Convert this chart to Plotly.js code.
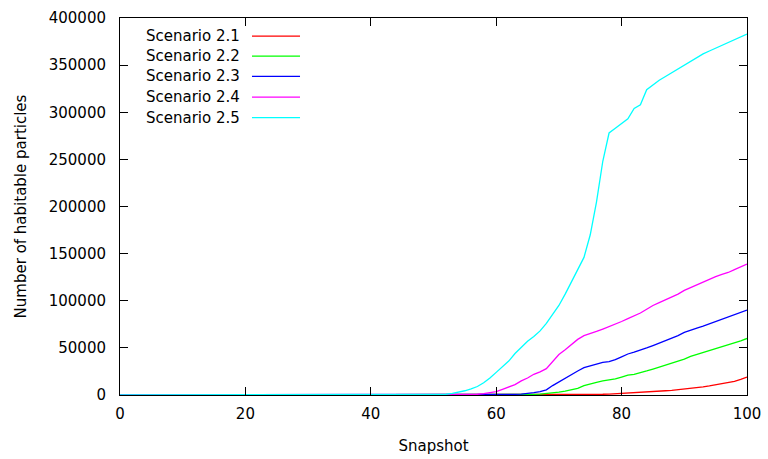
<!DOCTYPE html>
<html>
<head>
<meta charset="utf-8">
<script src="https://cdn.plot.ly/plotly-3.0.1.min.js"></script>
<style>html,body{margin:0;padding:0;background:#fff;}#chart{width:768px;height:459px;}</style>
</head>
<body>
<div id="chart"></div>
<script>
// Snapshot numbers 0..100
const snapshots = [
  0,1,2,3,4,5,6,7,8,9,10,11,12,13,14,15,16,17,18,19,
  20,21,22,23,24,25,26,27,28,29,30,31,32,33,34,35,36,37,38,39,
  40,41,42,43,44,45,46,47,48,49,50,51,52,53,54,55,56,57,58,59,
  60,61,62,63,64,65,66,67,68,69,70,71,72,73,74,75,76,77,78,79,
  80,81,82,83,84,85,86,87,88,89,90,91,92,93,94,95,96,97,98,99,100
];
const seriesNames = ["Scenario 2.1","Scenario 2.2","Scenario 2.3","Scenario 2.4","Scenario 2.5"];
const seriesColors = ["#ff0000","#00ff00","#0000ff","#ff00ff","#00ffff"];

// Scenario 2.1
const s21 = [
  0,0,0,0,0,0,0,0,0,0,0,0,0,0,0,0,0,0,0,0,
  0,0,0,0,0,0,0,0,0,0,0,0,0,0,0,0,0,0,0,0,
  0,0,0,0,0,0,0,0,0,0,0,0,0,0,0,0,0,0,0,0,
  0,0,0,0,0,0,0,0,0,0,0,50,100,200,300,450,600,800,1000,1300,
  1600,1950,2300,2700,3100,3550,4000,4500,5000,5600,6300,7000,7800,8700,9700,10800,12000,13300,14500,16500,19000
];
// Scenario 2.2
const s22 = [
  0,0,0,0,0,0,0,0,0,0,0,0,0,0,0,0,0,0,0,0,
  0,0,0,0,0,0,0,0,0,0,0,0,0,0,0,0,0,0,0,0,
  0,0,0,0,0,0,0,0,0,0,0,0,0,0,0,0,0,0,0,0,
  0,0,0,100,200,400,700,1000,1500,2200,3000,4000,5500,7000,10000,12000,13500,15000,16000,17000,
  19000,21000,22000,23500,25500,27500,29500,31500,33500,35500,38000,41000,43000,45000,47000,49500,51500,53500,55500,57500,60000
];
// Scenario 2.3
const s23 = [
  0,0,0,0,0,0,0,0,0,0,0,0,0,0,0,0,0,0,0,0,
  0,0,0,0,0,0,0,0,0,0,0,0,0,0,0,0,0,0,0,0,
  0,0,0,0,0,0,0,0,0,0,0,0,0,0,0,0,0,0,0,0,
  0,200,400,700,1000,1500,2500,3500,5500,10000,14000,17500,21500,25500,29000,31000,33000,34500,35500,37500,
  40500,43500,45500,47500,50000,52500,55000,57500,60000,63000,66500,69000,71000,73000,75500,78000,80500,83000,85500,88000,90000
];
// Scenario 2.4
const s24 = [
  0,0,0,0,0,0,0,0,0,0,0,0,0,0,0,0,0,0,0,0,
  0,0,0,0,0,0,0,0,0,0,0,0,0,0,0,0,0,0,0,0,
  0,0,0,0,0,0,0,0,0,0,0,0,0,0,0,0,300,800,1500,2200,
  3500,6000,8500,11000,15000,18000,22000,24500,28000,36000,43000,48000,54000,59000,63000,65000,67500,70000,72500,75000,
  78000,81000,84000,87000,91000,95000,98000,101000,104000,107000,111000,114000,117000,120000,123000,125500,128000,130000,133000,136000,139000
];
// Scenario 2.5
const s25 = [
  0,0,0,0,0,0,0,0,0,0,0,0,0,0,0,0,0,0,0,0,
  0,0,0,0,0,0,0,0,0,0,0,0,0,0,0,0,0,0,0,0,
  0,0,0,0,0,0,0,0,0,0,0,200,800,1800,3000,4500,6500,9000,13000,18000,
  24000,30000,36000,44000,51000,57000,62000,68000,76000,85000,95000,107000,120000,132000,146000,170000,205000,248000,278000,283000,
  288000,293000,304000,308000,324000,329000,334000,338000,342000,346000,350000,354000,358000,362000,365000,368000,371000,374000,377000,380000,383000
];
const seriesValues = [s21, s22, s23, s24, s25];

const FONT = "DejaVu Sans, sans-serif";
const traces = seriesValues.map((v, i) => ({
  x: snapshots, y: v, type: "scatter", mode: "lines", name: seriesNames[i],
  line: {color: seriesColors[i], width: 1.3}, showlegend: false, hoverinfo: "skip"
}));

// gnuplot-style legend: text right-aligned, then a line sample
const legendRowsY = [0.952, 0.899, 0.845, 0.79, 0.736];
const annotations = seriesNames.map((n, i) => ({
  xref: "paper", yref: "paper", x: 0.195, y: legendRowsY[i], text: n,
  showarrow: false, xanchor: "right", yanchor: "middle",
  font: {family: FONT, size: 15, color: "#000"}
}));
const shapes = seriesColors.map((c, i) => ({
  type: "line", xref: "paper", yref: "paper", x0: 0.2105, x1: 0.2871,
  y0: legendRowsY[i], y1: legendRowsY[i], line: {color: c, width: 1.3}
}));

const layout = {
  width: 768, height: 459,
  margin: {l: 120, r: 21, t: 18, b: 64},
  paper_bgcolor: "#fff", plot_bgcolor: "#fff",
  font: {family: FONT, size: 15, color: "#000"},
  xaxis: {
    range: [0, 100], dtick: 20, tick0: 0, showgrid: false, zeroline: false,
    showline: true, linecolor: "#000", linewidth: 1, mirror: "ticks",
    ticks: "inside", ticklen: 8, tickcolor: "#000", tickwidth: 1,
    ticklabelstandoff: 5,
    title: {text: "Snapshot", font: {family: FONT, size: 15}, standoff: 18},
    automargin: false
  },
  yaxis: {
    range: [0, 400000], dtick: 50000, tick0: 0, tickformat: "d",
    showgrid: false, zeroline: false,
    showline: true, linecolor: "#000", linewidth: 1, mirror: "ticks",
    ticks: "inside", ticklen: 8, tickcolor: "#000", tickwidth: 1,
    ticklabelstandoff: 10,
    title: {text: "Number of habitable particles", font: {family: FONT, size: 15}, standoff: 18},
    automargin: false
  },
  annotations: annotations,
  shapes: shapes
};
Plotly.newPlot("chart", traces, layout, {staticPlot: true, displayModeBar: false});
</script>
</body>
</html>
